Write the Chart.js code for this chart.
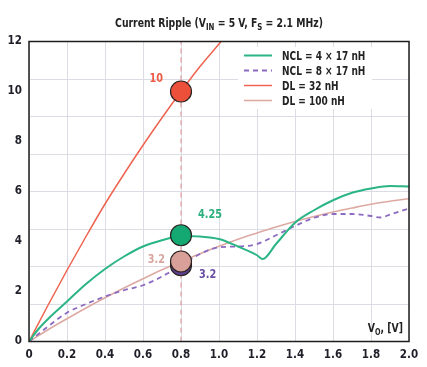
<!DOCTYPE html>
<html>
<head>
<meta charset="utf-8">
<script src="https://cdn.jsdelivr.net/npm/chart.js@4.4.1/dist/chart.umd.min.js"></script>
<style>
  html, body { margin: 0; padding: 0; background: #ffffff; }
  canvas { display: block; }
</style>
</head>
<body>
<canvas id="rippleChart" width="427" height="367"></canvas>
<script>
// Data
const xTicks = [0, 0.2, 0.4, 0.6, 0.8, 1.0, 1.2, 1.4, 1.6, 1.8, 2.0];
const yTicks = [0, 2, 4, 6, 8, 10, 12];

const ncl4X = [0, 0.05, 0.1, 0.2, 0.3, 0.4, 0.5, 0.6, 0.7, 0.8, 0.9, 1.0, 1.1, 1.2, 1.23, 1.3, 1.4, 1.5, 1.6, 1.7, 1.8, 1.9, 2.0];
const ncl4Y = [0, 0.5, 0.9, 1.6, 2.3, 2.9, 3.4, 3.8, 4.05, 4.22, 4.2, 4.1, 3.8, 3.45, 3.3, 3.9, 4.75, 5.25, 5.65, 5.95, 6.12, 6.22, 6.2];

const ncl8X = [0, 0.1, 0.2, 0.3, 0.4, 0.5, 0.6, 0.7, 0.8, 0.9, 1.0, 1.1, 1.2, 1.3, 1.4, 1.5, 1.6, 1.7, 1.8, 1.85, 1.9, 2.0];
const ncl8Y = [0, 0.6, 1.15, 1.5, 1.8, 2.05, 2.25, 2.6, 3.05, 3.5, 3.77, 3.8, 3.9, 4.25, 4.62, 4.95, 5.1, 5.1, 5.02, 4.96, 5.08, 5.32];

const dl32X = [0, 0.1, 0.2, 0.3, 0.4, 0.5, 0.6, 0.7, 0.8, 0.9, 1.0, 1.05];
const dl32Y = [0, 1.45, 2.85, 4.2, 5.5, 6.7, 7.85, 8.95, 10.0, 11.0, 11.9, 12.35];

const dl100X = [0, 0.1, 0.2, 0.3, 0.4, 0.5, 0.6, 0.7, 0.8, 0.9, 1.0, 1.1, 1.2, 1.3, 1.4, 1.5, 1.6, 1.7, 1.8, 1.9, 2.0];
const dl100Y = [0, 0.47, 0.91, 1.34, 1.75, 2.14, 2.51, 2.87, 3.2, 3.51, 3.81, 4.09, 4.34, 4.58, 4.8, 5.0, 5.18, 5.34, 5.49, 5.61, 5.71];

// Highlighted points at VO = 0.8 V
const markerX = 0.8;
const markerNames = ['DL = 100 nH', 'NCL = 8 × 17 nH', 'NCL = 4 × 17 nH', 'DL = 32 nH'];
const markerY = [3.2, 3.05, 4.25, 10.0];
const markerText = ['3.2', '3.2', '4.25', '10'];

const legendNames = ['NCL = 4 × 17 nH', 'NCL = 8 × 17 nH', 'DL = 32 nH', 'DL = 100 nH'];

const FONT = '"DejaVu Sans Condensed", "Liberation Sans Narrow", sans-serif';

function toPoints(xs, ys) {
    return xs.map((x, i) => ({ x: x, y: ys[i] }));
}

// Frame, title, axis name, legend and marker labels
const decorPlugin = {
    id: 'decor',
    afterDraw(chart) {
        const { ctx, chartArea: a, scales } = chart;
        ctx.save();

        // Frame round the plot
        ctx.strokeStyle = '#1e1e1e';
        ctx.lineWidth = 1.5;
        ctx.strokeRect(a.left, a.top, a.right - a.left, a.bottom - a.top);

        // Title with subscripts
        drawRich(ctx, [
            ['Current Ripple (V', 0], ['IN', 1], [' = 5 V, F', 0], ['S', 1], [' = 2.1 MHz)', 0]
        ], (a.left + a.right) / 2, 27, 12, '#222222', 'center', 0.86);

        // Axis name inside the plot
        drawRich(ctx, [['V', 0], ['O', 1], [', [V]', 0]], a.right - 6, a.bottom - 10, 11.5, '#222222', 'right', 0.9);

        // Legend box
        const lx = 238, ly = 47;
        ctx.fillStyle = '#ffffff';
        ctx.fillRect(lx, ly, 134, 62);
        const ds = chart.data.datasets;
        legendNames.forEach((name, i) => {
            const d = ds[i];
            const yy = ly + 8.5 + i * 15;
            ctx.beginPath();
            ctx.strokeStyle = d.borderColor;
            ctx.lineWidth = d.borderWidth;
            ctx.setLineDash(d.borderDash || []);
            ctx.moveTo(lx + 6, yy);
            ctx.lineTo(lx + 34, yy);
            ctx.stroke();
            ctx.setLineDash([]);
            drawRich(ctx, [[name, 0]], lx + 44, yy + 4.5, 11.5, '#222222', 'left', 0.87);
        });

        // Value labels next to the markers
        const xs = scales.x, ys = scales.y;
        const px = xs.getPixelForValue(markerX);
        const labelStyle = [
            { color: '#d8a69f', dx: -16, dy: -3, align: 'right' },
            { color: '#6a4fa3', dx: 18, dy: 8, align: 'left' },
            { color: '#2aaf7d', dx: 17, dy: -22, align: 'left' },
            { color: '#ef5a45', dx: -18, dy: -14, align: 'right' }
        ];
        markerY.forEach((v, i) => {
            const s = labelStyle[i];
            drawRich(ctx, [[markerText[i], 0]], px + s.dx, ys.getPixelForValue(v) + s.dy + 4.5, 12, s.color, s.align, 0.9);
        });

        ctx.restore();
    }
};

// Draws text pieces (subscripts smaller and lower), squeezed sideways by sx
function drawRich(ctx, parts, x, y, size, color, align, sx) {
    const fonts = ['bold ' + size + 'px ' + FONT, 'bold ' + Math.round(size * 0.72) + 'px ' + FONT];
    let total = 0;
    parts.forEach(p => { ctx.font = fonts[p[1]]; total += ctx.measureText(p[0]).width; });
    total *= sx;
    let cx = align === 'center' ? x - total / 2 : (align === 'right' ? x - total : x);
    ctx.save();
    ctx.translate(cx, y);
    ctx.scale(sx, 1);
    ctx.fillStyle = color;
    ctx.textAlign = 'left';
    ctx.textBaseline = 'alphabetic';
    let off = 0;
    parts.forEach(p => {
        ctx.font = fonts[p[1]];
        ctx.fillText(p[0], off, p[1] ? 3 : 0);
        off += ctx.measureText(p[0]).width;
    });
    ctx.restore();
}

function createRippleChart(elementId) {
    const canvas = document.getElementById(elementId);
    const ctx = canvas.getContext('2d');

    const markerFill = ['#d9a099', '#5b3f8c', '#14a872', '#ec503a'];
    const markerOrder = [1, 2, 0, 0];

    const datasets = [
        { label: legendNames[0], data: toPoints(ncl4X, ncl4Y), borderColor: '#2bb585', borderWidth: 2, order: 5 },
        { label: legendNames[1], data: toPoints(ncl8X, ncl8Y), borderColor: '#8b6bc2', borderWidth: 1.8, borderDash: [5, 4], order: 6 },
        { label: legendNames[2], data: toPoints(dl32X, dl32Y), borderColor: '#ee6450', borderWidth: 1.5, order: 5 },
        { label: legendNames[3], data: toPoints(dl100X, dl100Y), borderColor: '#ddaaa3', borderWidth: 1.6, order: 7 },
        // Vertical guide at 0.8 V
        { label: 'guide', data: [{ x: markerX, y: 0 }, { x: markerX, y: 12 }], borderColor: '#de8c8c', borderWidth: 1, borderDash: [5, 4], order: 8 }
    ];
    datasets.forEach(d => {
        d.type = 'line';
        d.fill = false;
        d.pointRadius = 0;
        d.tension = 0.3;
        d.cubicInterpolationMode = 'monotone';
    });

    markerY.forEach((v, i) => {
        datasets.push({
            type: 'scatter',
            label: markerNames[i],
            data: [{ x: markerX, y: v }],
            backgroundColor: markerFill[i],
            borderColor: '#2b2222',
            borderWidth: 1.2,
            pointRadius: 10.5,
            pointHoverRadius: 10.5,
            order: markerOrder[i] - i
        });
    });

    canvas.chartInstance = new Chart(ctx, {
        type: 'line',
        data: { datasets: datasets },
        options: {
            responsive: false,
            animation: false,
            events: [],
            layout: { padding: { left: 0, right: 18, top: 41.5, bottom: 0 } },
            scales: {
                x: {
                    type: 'linear',
                    min: 0,
                    max: 2,
                    afterBuildTicks: axis => { axis.ticks = xTicks.map(v => ({ value: v })); },
                    afterFit: axis => { axis.height = 25.5; },
                    grid: { color: '#dcdce4', lineWidth: 1, drawTicks: false },
                    border: { display: false },
                    ticks: {
                        padding: 7,
                        color: '#1e1e28',
                        font: { family: FONT, size: 11.5, weight: 'bold' },
                        callback: v => v === 0 ? '0' : v.toFixed(1),
                        maxRotation: 0
                    }
                },
                y: {
                    type: 'linear',
                    min: 0,
                    max: 12,
                    afterBuildTicks: axis => { axis.ticks = yTicks.map(v => ({ value: v })); },
                    afterFit: axis => { axis.width = 29; },
                    grid: { display: false, drawTicks: false },
                    border: { display: false },
                    ticks: {
                        padding: 7,
                        color: '#1e1e28',
                        font: { family: FONT, size: 11.5, weight: 'bold' }
                    }
                },
                // Horizontal grid of the original runs every 1.5
                yGrid: {
                    type: 'linear',
                    position: 'right',
                    min: 0,
                    max: 12,
                    ticks: { display: false, stepSize: 1.5 },
                    afterFit: axis => { axis.width = 0; },
                    grid: { color: '#dcdce4', lineWidth: 1, drawTicks: false },
                    border: { display: false }
                }
            },
            plugins: {
                legend: { display: false },
                title: { display: false },
                tooltip: { enabled: false }
            }
        },
        plugins: [decorPlugin]
    });
}

createRippleChart('rippleChart');
</script>
</body>
</html>
